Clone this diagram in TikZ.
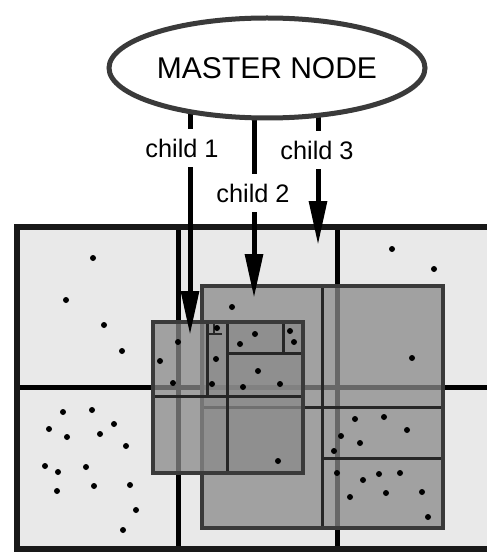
\documentclass[tikz,border=0pt]{standalone}
\usepackage{fontspec}
\setmainfont{Liberation Sans}
\usepackage{xcolor}
\usetikzlibrary{arrows.meta, positioning, calc, shapes.geometric, shadows}
\definecolor{cellgray}{HTML}{E9E9E9}
\definecolor{boxgray}{HTML}{8A8A8A}
\definecolor{edgegray}{HTML}{3A3A3A}
\pgfdeclarelayer{background}
\pgfsetlayers{background,main}

\begin{document}
\begin{tikzpicture}[x=0.75pt, y=-0.75pt,
    master/.style={ellipse, draw=edgegray, line width=3.75pt, fill=white,
        minimum width=237pt, minimum height=75pt, inner sep=0pt,
        drop shadow={opacity=0.3, shadow xshift=1.5pt, shadow yshift=-1.5pt},
        font=\fontsize{22.5}{26}\selectfont},
    lbl/.style={fill=white, inner xsep=2pt, inner ysep=7.5pt,
        font=\fontsize{19}{22}\selectfont},
    flow/.style={line width=3.75pt, -{Triangle[length=33pt, width=13pt]}},
    frame/.style={draw=black!90, line width=4.5pt},
    divider/.style={draw=black, line width=3.75pt},
    sqfill/.style={fill=boxgray, fill opacity=0.75},
    sqedge/.style={draw=edgegray, line width=3pt},
    sqline/.style={draw=black!85, line width=2.25pt},
    dot/.style={fill=black}]
    \useasboundingbox (0,0) rectangle (486,552);

    \node[master] (master) at (267,68) {MASTER NODE};
    \node[lbl] (lab1) at (182,148) {child 1};
    \node[lbl] (lab2) at (253,193) {child 2};
    \node[lbl] (lab3) at (317,150) {child 3};
    \coordinate (tip1) at (190,335);
    \coordinate (tip2) at (254,298);
    \coordinate (tip3) at (318,245);

    \begin{pgfonlayer}{background}
    % base grid
    \fill[cellgray] (17,227) rectangle (492,549);
    \draw[divider] (178,227) -- (178,549) (337,227) -- (337,549) (17,387) -- (492,387);
    \draw[frame] (17,227) rectangle (492,549);
    % child 2 region
    \fill[sqfill] (202,286) rectangle (443,528);
    \draw[sqline] (322,286) -- (322,528) (202,407) -- (443,407) (322,458) -- (443,458);
    \draw[sqedge] (202,286) rectangle (443,528);
    % child 1 region
    \fill[sqfill] (153,322) rectangle (303,473);
    \draw[sqline] (227,322) -- (227,473) (153,396) -- (303,396)
        (207,322) -- (207,396) (227,353) -- (303,353) (283,322) -- (283,353);
    \draw[sqline, line width=1.2pt] (207,334) -- (222,334) (214,322) -- (214,334);
    \draw[sqedge] (153,322) rectangle (303,473);
    % points
    \foreach \p in {(93,258),(66,300),(104,325),(122,351),
        (178,342),(160,361),(173,383),(217,328),(216,359),(212,384),
        (232,307),(255,334),(240,344),(290,331),(294,342),(258,371),
        (243,387),(280,384),(392,249),(434,269),(412,358),(278,461),
        (355,419),(384,417),(407,430),(341,436),(360,443),(334,451),
        (337,473),(363,480),(379,474),(400,473),(350,497),(386,493),
        (422,492),(428,517),
        (63,412),(92,410),(114,424),(49,429),(67,437),(100,434),(126,446),
        (45,466),(58,472),(86,467),(57,491),(94,486),(130,485),(136,510),(123,530)}
        \fill[dot] \p circle[radius=3];
    % connectors
    \draw[flow] (master.center -| tip1) -- (tip1);
    \draw[flow] (master.center -| tip2) -- (tip2);
    \draw[flow] (master.center -| tip3) -- (tip3);
    \end{pgfonlayer}
\end{tikzpicture}
\end{document}
